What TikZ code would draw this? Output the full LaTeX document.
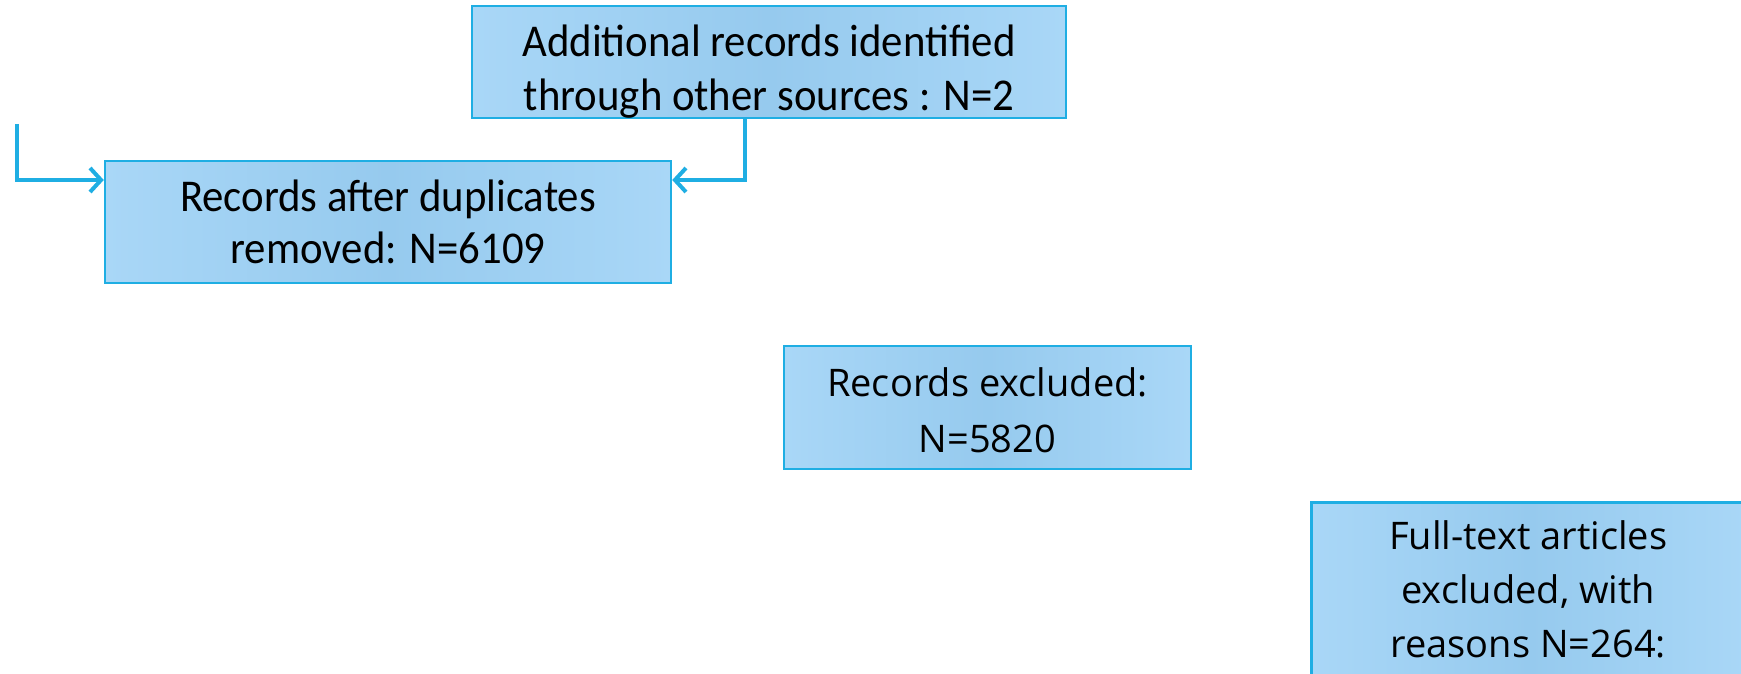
\documentclass[tikz,border=0pt]{standalone}
\usepackage{fontspec}
\setmainfont{Carlito}
\newfontfamily\condfont[FakeStretch=0.94]{Carlito}
\newfontfamily\widefont{Open Sans}
\usetikzlibrary{arrows.meta,shadings}
\definecolor{lineblue}{HTML}{1FAEE3}
\definecolor{fillout}{HTML}{A9D7F7}
\definecolor{fillin}{HTML}{96CAEE}
\tikzset{
  box/.style={draw=lineblue, line width=2.5pt, left color=fillout, right color=fillout, middle color=fillin,
    shading angle=90, inner sep=0pt, align=center, text=black},
  conn/.style={draw=lineblue, line width=4pt, -{Straight Barb[length=11pt,width=24pt]}},
  condtxt/.style={font=\condfont\fontsize{45.5}{49}\selectfont},
  widetxt/.style={font=\widefont\fontsize{38}{51}\selectfont},
}
\begin{document}
\begin{tikzpicture}[x=1pt,y=-1pt]
\useasboundingbox (0,0) rectangle (1741,674);
\clip (0,0) rectangle (1741,674);
\node[box, condtxt, minimum width=594pt, minimum height=110pt] (a) at (769,62)
  {\rule{0pt}{50pt}Additional records identified\\[5pt]through other sources : N=2};
\node[box, condtxt, minimum width=566pt, minimum height=122pt] (b) at (388,222)
  {Records after duplicates\\[3pt]removed: N=6109};
\node[box, widetxt, minimum width=407pt, minimum height=123pt] (c) at (987.5,407.5)
  {\rule{0pt}{35pt}Records excluded:\\[5pt]N=5820};
\node[box, minimum width=436pt, minimum height=240pt, anchor=north west] (d) at (1310,501) {};
\node[widetxt, anchor=north, inner sep=0pt, align=center] (dt) at ([xshift=-1pt,yshift=-19pt]d.north)
  {Full-text articles\\[3pt]excluded, with\\[3pt]reasons N=264:};
\coordinate (s) at (17,124);
\draw[conn] (s) |- ([yshift=42pt]b.west);
\draw[conn] ([xshift=-24pt]a.south) |- ([yshift=42pt]b.east);
\end{tikzpicture}
\end{document}
